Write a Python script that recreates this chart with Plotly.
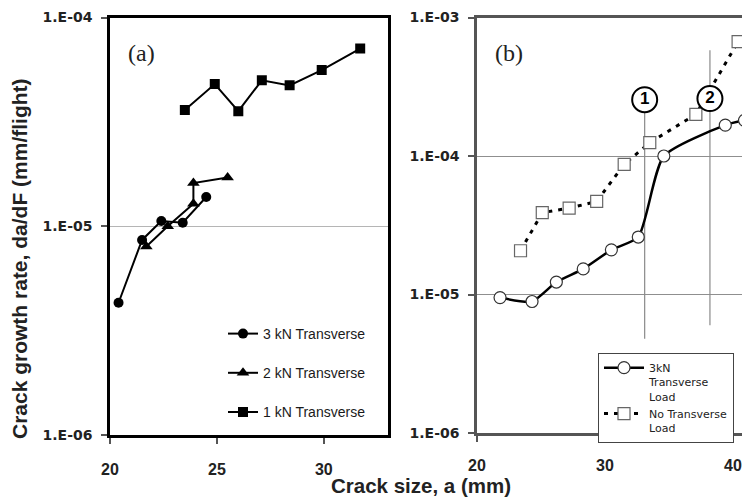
import plotly.graph_objects as go

# ---- Panel (a) data ----
a3_x = [20.4, 21.5, 22.4, 23.4, 24.5]
a3_y = [4.3e-6, 8.6e-6, 1.06e-5, 1.04e-5, 1.38e-5]
a2_x = [21.7, 22.7, 23.9, 23.9, 25.5]
a2_y = [8.0e-6, 1.0e-5, 1.28e-5, 1.61e-5, 1.71e-5]
a1_x = [23.5, 24.9, 26.0, 27.1, 28.4, 29.9, 31.7]
a1_y = [3.6e-5, 4.8e-5, 3.56e-5, 5.0e-5, 4.73e-5, 5.6e-5, 7.1e-5]
a_names = ["3 kN Transverse", "2 kN Transverse", "1 kN Transverse"]

# ---- Panel (b) data ----
b_load_x = [21.8, 24.3, 26.2, 28.3, 30.5, 32.6, 34.6, 39.4, 40.9]
b_load_y = [9.5e-6, 8.9e-6, 1.23e-5, 1.53e-5, 2.1e-5, 2.6e-5, 1.0e-4, 1.67e-4, 1.81e-4]
b_none_x = [23.4, 25.1, 27.2, 29.35, 31.5, 33.5, 37.1, 40.4]
b_none_y = [2.07e-5, 3.9e-5, 4.2e-5, 4.7e-5, 8.7e-5, 1.25e-4, 2.0e-4, 6.7e-4]
b_names = ["3kN<br>Transverse<br>Load", "No Transverse<br>Load"]

# stage markers in (b)
stage_x = [33.1, 38.2]
stage_labels = ["1", "2"]
stage_label_y = [2.55e-4, 2.6e-4]
stage_line_top = [2.55e-4, 5.8e-4]
stage_line_bottom = [4.8e-6, 6.0e-6]

# ticks
y_ticks_a = [1e-6, 1e-5, 1e-4]
y_ticktext_a = ["1.E-06", "1.E-05", "1.E-04"]
y_ticks_b = [1e-6, 1e-5, 1e-4, 1e-3]
y_ticktext_b = ["1.E-06", "1.E-05", "1.E-04", "1.E-03"]
x_ticks_a = [20, 25, 30]
x_ticks_b = [20, 30, 40]

# page has an 8px body margin: size figure so it ends exactly at the window edge
OFF = 8
W, H = 750 - OFF, 497 - OFF


def px(x):
    return (x - OFF) / W


def py(y):
    return 1 - (y - OFF) / H


fig = go.Figure()

# Panel (a)
fig.add_trace(go.Scatter(x=a3_x, y=a3_y, name=a_names[0], mode="lines+markers",
                         line=dict(color="black", width=2),
                         marker=dict(symbol="circle", size=10, color="black"),
                         xaxis="x", yaxis="y", legend="legend", legendgroup="a3"))
fig.add_trace(go.Scatter(x=a2_x, y=a2_y, name=a_names[1], mode="lines+markers",
                         line=dict(color="black", width=2),
                         marker=dict(symbol="triangle-up", size=11, color="black"),
                         xaxis="x", yaxis="y", legend="legend", legendgroup="a2"))
fig.add_trace(go.Scatter(x=a1_x, y=a1_y, name=a_names[2], mode="lines+markers",
                         line=dict(color="black", width=2),
                         marker=dict(symbol="square", size=10, color="black"),
                         xaxis="x", yaxis="y", legend="legend", legendgroup="a1"))

# Panel (b) stage lines
for sx, top, bot in zip(stage_x, stage_line_top, stage_line_bottom):
    fig.add_trace(go.Scatter(x=[sx, sx], y=[top, bot], mode="lines",
                             line=dict(color="#8a8a8a", width=1.2),
                             showlegend=False, hoverinfo="skip",
                             xaxis="x2", yaxis="y2"))

fig.add_trace(go.Scatter(x=b_none_x, y=b_none_y, name=b_names[1], mode="lines+markers",
                         line=dict(color="black", width=3, dash="4px,6px"),
                         marker=dict(symbol="square", size=12, color="white",
                                     line=dict(color="#666666", width=1.2)),
                         xaxis="x2", yaxis="y2", legend="legend2", legendrank=2))
fig.add_trace(go.Scatter(x=b_load_x, y=b_load_y, name=b_names[0], mode="lines+markers",
                         line=dict(color="black", width=2.5, shape="spline", smoothing=0.6),
                         marker=dict(symbol="circle", size=12, color="white",
                                     line=dict(color="#333333", width=1.2)),
                         xaxis="x2", yaxis="y2", legend="legend2", legendrank=1))

fig.add_trace(go.Scatter(x=stage_x, y=stage_label_y, mode="markers+text",
                         text=stage_labels, textposition="middle center",
                         textfont=dict(family="Liberation Sans, Arial", size=17,
                                       color="black", weight="bold"),
                         marker=dict(symbol="circle", size=25, color="white",
                                     line=dict(color="black", width=2)),
                         showlegend=False, hoverinfo="skip",
                         xaxis="x2", yaxis="y2", cliponaxis=False))

xtickfont = dict(family="Liberation Sans, Arial", size=16, color="#222222", weight="bold")
ytickfont = dict(family="DejaVu Sans, Verdana", size=14, color="#222222", weight="bold")

fig.update_layout(
    width=W, height=H,
    margin=dict(l=0, r=0, t=0, b=0, autoexpand=False),
    paper_bgcolor="white", plot_bgcolor="white",
    font=dict(family="Liberation Sans, Arial", color="#222222"),
    xaxis=dict(domain=[px(110), px(388)], range=[20, 33], anchor="y",
               tickvals=x_ticks_a, ticks="outside", ticklen=6, tickwidth=1.5,
               tickcolor="#555555", showline=True, linecolor="black", linewidth=2.5,
               mirror=True, showgrid=False, zeroline=False, tickfont=xtickfont,
               ticklabelstandoff=12, automargin=False, ticklabeloverflow="allow"),
    yaxis=dict(domain=[py(435), py(17.5)], type="log", range=[-6, -4], anchor="x",
               tickvals=y_ticks_a, ticktext=y_ticktext_a, ticks="outside", ticklen=6,
               tickwidth=1.5, tickcolor="#555555",
               showline=True, linecolor="black", linewidth=2.5, mirror=True,
               showgrid=True, gridcolor="#b5b5b5", gridwidth=1, zeroline=False,
               tickfont=ytickfont, ticklabelstandoff=6, automargin=False,
               ticklabeloverflow="allow"),
    xaxis2=dict(domain=[px(477), 1.0], range=[20, 41.33], anchor="y2",
                tickvals=x_ticks_b, ticks="outside", ticklen=6, tickwidth=1.5,
                tickcolor="#555555", showline=True, linecolor="#555555", linewidth=2.5,
                mirror=True, showgrid=False, zeroline=False, tickfont=xtickfont,
                ticklabelstandoff=10, automargin=False, ticklabeloverflow="allow"),
    yaxis2=dict(domain=[py(433), py(17.5)], type="log", range=[-6, -3], anchor="x2",
                tickvals=y_ticks_b, ticktext=y_ticktext_b, ticks="outside", ticklen=6,
                tickwidth=1.5, tickcolor="#555555",
                showline=True, linecolor="#555555", linewidth=2.5,
                showgrid=True, gridcolor="#8f8f8f", gridwidth=1, zeroline=False,
                tickfont=ytickfont, ticklabelstandoff=6, automargin=False,
                ticklabeloverflow="allow"),
    legend=dict(x=px(223), y=py(318), xanchor="left", yanchor="top",
                bgcolor="rgba(0,0,0,0)", borderwidth=0, traceorder="grouped",
                tracegroupgap=18, itemwidth=30,
                font=dict(family="Liberation Sans Narrow, Arial Narrow, Liberation Sans",
                          size=14, color="#1a1a1a")),
    legend2=dict(x=px(598), y=py(353), xanchor="left", yanchor="top",
                 bgcolor="white", bordercolor="#444444", borderwidth=1,
                 traceorder="normal", tracegroupgap=0, itemwidth=40, valign="top",
                 font=dict(family="DejaVu Sans, Verdana", size=11, color="#222222")),
    annotations=[
        dict(text="(a)", xref="paper", yref="paper", x=px(126), y=py(53),
             xanchor="left", yanchor="middle", showarrow=False,
             font=dict(family="Liberation Serif, Times New Roman", size=24, color="#222222")),
        dict(text="(b)", xref="paper", yref="paper", x=px(493), y=py(53),
             xanchor="left", yanchor="middle", showarrow=False,
             font=dict(family="Liberation Serif, Times New Roman", size=24, color="#222222")),
        dict(text="Crack growth rate, da/dF (mm/flight)", xref="paper", yref="paper",
             x=px(20), y=py(259), textangle=-90, showarrow=False,
             xanchor="center", yanchor="middle",
             font=dict(family="Liberation Sans, Arial", size=21, color="#222222", weight="bold")),
        dict(text="Crack size, a (mm)", xref="paper", yref="paper",
             x=px(421), y=py(485), showarrow=False, xanchor="center", yanchor="middle",
             font=dict(family="Liberation Sans, Arial", size=20.5, color="#222222", weight="bold")),
    ],
)

fig.write_html("out.html")
